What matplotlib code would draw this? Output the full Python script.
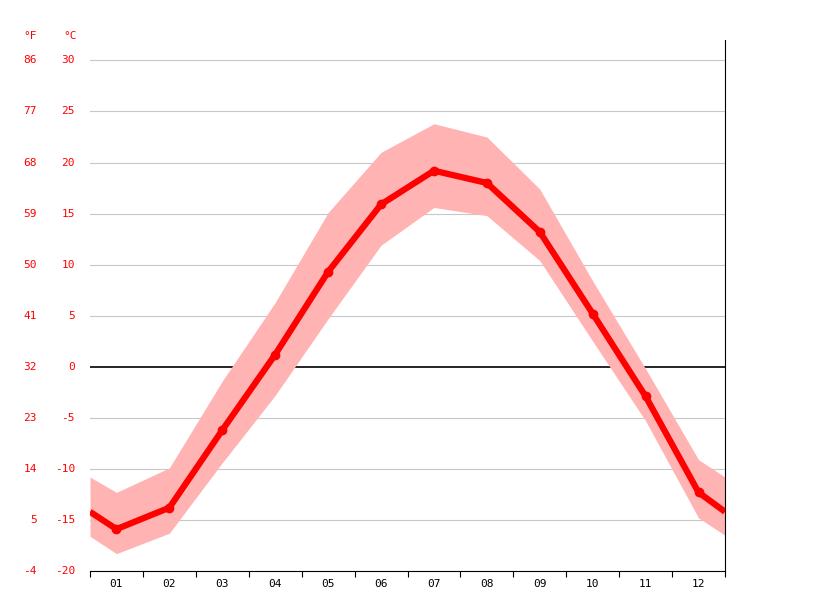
import matplotlib
matplotlib.use("Agg")
import matplotlib.pyplot as plt
from matplotlib.transforms import blended_transform_factory as btf

months = ["01","02","03","04","05","06","07","08","09","10","11","12"]
x_pos = [0.5,1,2,3,4,5,6,7,8,9,10,11,12,12.5]
mean_t = [-14.2,-15.9,-13.8,-6.2,1.2,9.3,15.9,19.2,18.0,13.2,5.2,-2.9,-12.3,-14.2]
upper_t = [-10.8,-12.3,-9.9,-1.4,6.3,15.1,21.0,23.8,22.5,17.4,8.4,-0.2,-9.1,-10.8]
lower_t = [-16.6,-18.3,-16.3,-9.4,-2.8,4.7,11.9,15.6,14.8,10.4,2.5,-5.3,-14.8,-16.5]
c_ticks = [-20,-15,-10,-5,0,5,10,15,20,25,30]
f_ticks = [-4,5,14,23,32,41,50,59,68,77,86]

fig = plt.figure(figsize=(8.15,6.11), dpi=100)
ax = fig.add_axes([90/815, 40/611, 635/815, 531/611])
ax.set_xlim(0.5,12.5)
ax.set_ylim(-20,32)
for c in c_ticks:
    if c != 0:
        ax.axhline(c, color="#c8c8c8", lw=0.8, zorder=0)
ax.axhline(0, color="black", lw=1.2, zorder=1)
ax.fill_between(x_pos, lower_t, upper_t, color="#ffb3b3", lw=0, zorder=2)
ax.plot(x_pos, mean_t, color="#ff0000", lw=4.5, zorder=3, solid_capstyle="butt")
ax.plot(x_pos[1:-1], mean_t[1:-1], "o", color="#ff0000", ms=6, zorder=4)

for s in ["top","left"]:
    ax.spines[s].set_visible(False)
ax.spines["right"].set_color("black")
ax.spines["bottom"].set_color("black")
ax.set_yticks([])
ax.set_xticks([i+0.5 for i in range(0,13)])
ax.set_xticklabels([])
ax.set_xticks(range(1,13), minor=True)
ax.set_xticklabels(months, minor=True, fontsize=8, family="DejaVu Sans Mono")
ax.tick_params(axis="x", which="major", length=4)
ax.tick_params(axis="x", which="minor", length=0, pad=6)

tr = btf(fig.transFigure, ax.transData)
for c, f in zip(c_ticks, f_ticks):
    ax.text(75/815, c, str(c), transform=tr, ha="right", va="center", color="red", fontsize=8, family="DejaVu Sans Mono")
    ax.text(37/815, f'{f}' and c, str(f), transform=tr, ha="right", va="center", color="red", fontsize=8, family="DejaVu Sans Mono")
fig.text(30/815, 1-36/611, "°F", color="red", fontsize=8, ha="center", va="center", family="DejaVu Sans Mono")
fig.text(70/815, 1-36/611, "°C", color="red", fontsize=8, ha="center", va="center", family="DejaVu Sans Mono")
fig.savefig("out.png", dpi=100)
